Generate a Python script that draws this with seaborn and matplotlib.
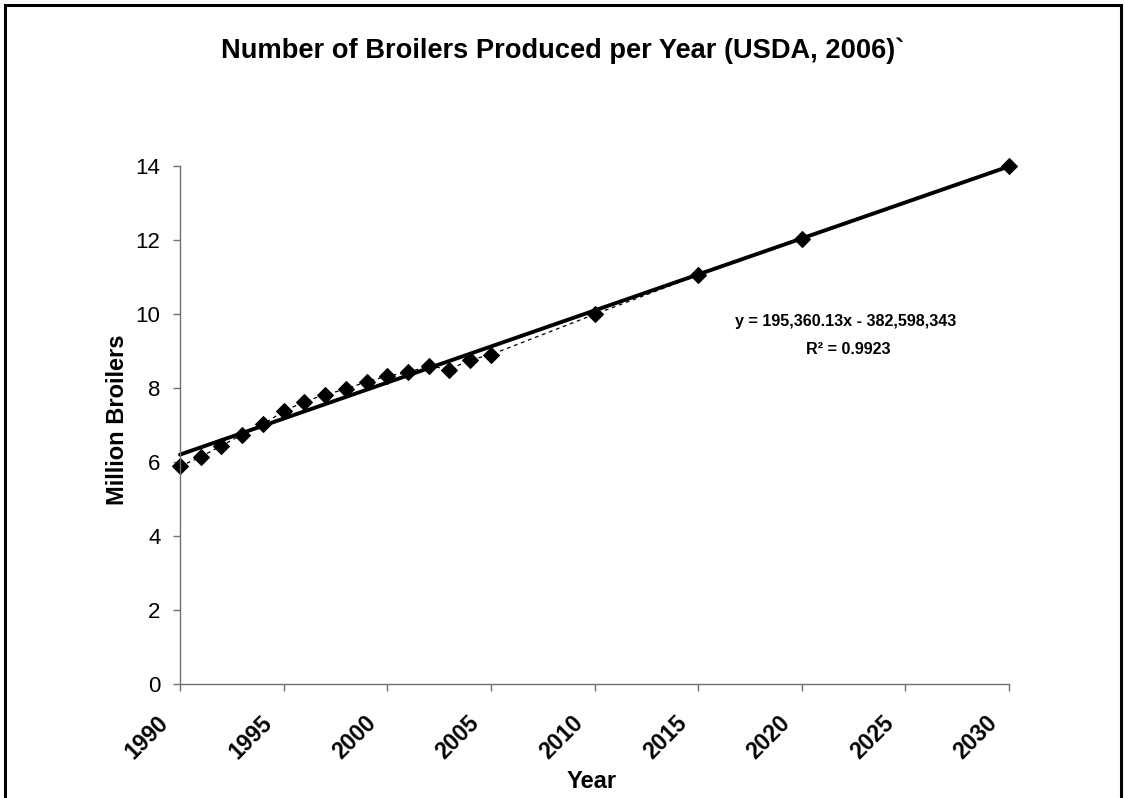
import numpy as np
import pandas as pd
import matplotlib
matplotlib.use("Agg")
import matplotlib.pyplot as plt
from matplotlib.patches import Rectangle
from matplotlib.transforms import ScaledTranslation
import seaborn as sns

# Data (million broilers)
years = [1990, 1991, 1992, 1993, 1994, 1995, 1996, 1997, 1998, 1999,
         2000, 2001, 2002, 2003, 2004, 2005, 2010, 2015, 2020, 2030]
broilers = [5.88, 6.14, 6.44, 6.74, 7.02, 7.37, 7.63, 7.82, 7.97, 8.17,
            8.32, 8.42, 8.60, 8.50, 8.76, 8.90, 9.99, 11.05, 12.04, 14.00]
xticks = [1990, 1995, 2000, 2005, 2010, 2015, 2020, 2025, 2030]
yticks = [0, 2, 4, 6, 8, 10, 12, 14]
title = "Number of Broilers Produced per Year (USDA, 2006)`"
eq_text = "y = 195,360.13x - 382,598,343"
r2_text = "R\u00b2 = 0.9923"

df = pd.DataFrame({"Year": years, "Broilers": broilers})

sns.set_theme(style="white")
plt.rcParams["font.family"] = ["Liberation Sans", "DejaVu Sans"]
plt.rcParams["text.color"] = "black"
plt.rcParams["axes.labelcolor"] = "black"
plt.rcParams["xtick.color"] = "black"
plt.rcParams["ytick.color"] = "black"

fig = plt.figure(figsize=(11.26, 7.98), dpi=100)
W, H = 1126, 798
ax = fig.add_axes([180 / W, 1 - 684 / H, (1009 - 180) / W, (684 - 166) / H])

# Linear trendline
sns.regplot(data=df, x="Year", y="Broilers", scatter=False, ci=None,
            truncate=True, color="black", line_kws={"lw": 2.8}, ax=ax)
# Data series with thin dashed connecting line
sns.lineplot(data=df, x="Year", y="Broilers", color="black", lw=0.9,
             linestyle=(0, (3, 3)), marker="D", markersize=8.5,
             markeredgecolor="black", markerfacecolor="black", ax=ax)
for ln in ax.get_lines():
    ln.set_clip_on(False)

ax.set_xlim(1990, 2030)
ax.set_ylim(0, 14)

for s in ["top", "right"]:
    ax.spines[s].set_visible(False)
for s in ["left", "bottom"]:
    ax.spines[s].set_color("#707070")
    ax.spines[s].set_linewidth(1.0)
ax.tick_params(axis="both", which="major", direction="out", length=5,
               width=1.0, color="#707070", bottom=True, left=True)
ax.tick_params(axis="x", pad=14.5)
ax.tick_params(axis="y", pad=9)

ax.set_xticks(xticks)
ax.set_yticks(yticks)
ax.set_xticklabels([str(t) for t in xticks], rotation=45, ha="right",
                   va="top", rotation_mode="anchor", fontsize=16.5,
                   fontweight="bold")
ax.set_yticklabels([str(t) for t in yticks], fontsize=16)
shift = ScaledTranslation(-23 / 100, 0, fig.dpi_scale_trans)
for lab in ax.get_xticklabels():
    lab.set_transform(lab.get_transform() + shift)

ax.set_xlabel("Year", fontsize=17, fontweight="bold")
ax.xaxis.set_label_coords((592 - 180) / 829, -(781 - 684) / 518)
ax.xaxis.label.set_va("center")
ax.set_ylabel("Million Broilers", fontsize=17, fontweight="bold")
ax.yaxis.set_label_coords((117 - 180) / 829, (684 - 420) / 518)
ax.yaxis.label.set_va("center")

ax.text((846 - 180) / 829, (684 - 322) / 518, eq_text, transform=ax.transAxes,
        ha="center", va="center", fontsize=11.6, fontweight="bold")
ax.text((848 - 180) / 829, (684 - 350) / 518, r2_text, transform=ax.transAxes,
        ha="center", va="center", fontsize=11.6, fontweight="bold")

fig.text(563 / W, 1 - 51 / H, title, ha="center", va="center",
         fontsize=19.6, fontweight="bold")

fig.patches.append(Rectangle((5 / W, -0.1), (1121 - 5) / W, 1.1 - 5 / H,
                             transform=fig.transFigure, fill=False,
                             lw=2.2, ec="black"))

fig.savefig("out.png", dpi=100, facecolor="white")
